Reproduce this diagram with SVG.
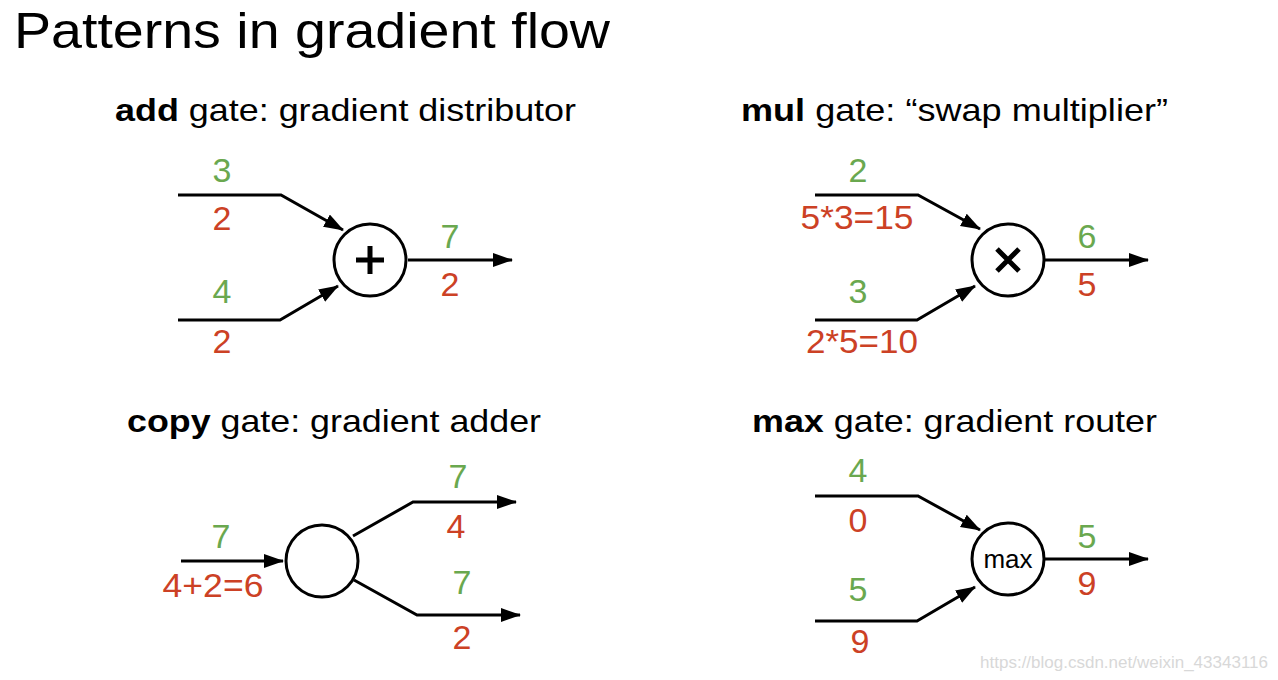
<svg xmlns="http://www.w3.org/2000/svg" width="1278" height="680" viewBox="0 0 1278 680">
<defs>
<marker id="arr" markerUnits="userSpaceOnUse" markerWidth="22" markerHeight="16" refX="19" refY="7" orient="auto">
<path d="M0,0 L20,7 L0,14 z" fill="#000"/>
</marker>
<style>
text{font-family:"Liberation Sans",Arial,sans-serif;}
.title{font-size:50px;fill:#000;}
.head{font-size:32px;fill:#000;}
.b{font-weight:bold;}
.g{font-size:34px;fill:#6aa84f;text-anchor:middle;}
.r{font-size:34px;fill:#cc4125;text-anchor:middle;}
.arrow{fill:none;stroke:#000;stroke-width:3;marker-end:url(#arr);}
.node{fill:#fff;stroke:#000;stroke-width:3;}
.sym{fill:none;stroke:#000;stroke-width:5;}
.wm{font-size:17px;fill:#d8d8d8;}
</style>
</defs>
<rect width="1278" height="680" fill="#fff"/>
<text class="title" x="14" y="48" textLength="596" lengthAdjust="spacingAndGlyphs">Patterns in gradient flow</text>

<text class="head" x="115" y="121" textLength="461" lengthAdjust="spacingAndGlyphs"><tspan class="b">add</tspan> gate: gradient distributor</text>
<text class="head" x="741" y="121" textLength="427" lengthAdjust="spacingAndGlyphs"><tspan class="b">mul</tspan> gate: “swap multiplier”</text>
<text class="head" x="127" y="432" textLength="414" lengthAdjust="spacingAndGlyphs"><tspan class="b">copy</tspan> gate: gradient adder</text>
<text class="head" x="752" y="432" textLength="405" lengthAdjust="spacingAndGlyphs"><tspan class="b">max</tspan> gate: gradient router</text>

<g id="connectors">
<path class="arrow" d="M178,195 L281,195 L343,230"/>
<path class="arrow" d="M178,320 L280,320 L338,286"/>
<path class="arrow" d="M408,260 L512,260"/>
<path class="arrow" d="M815,195 L918,195 L980,229"/>
<path class="arrow" d="M815,320 L917,320 L975,286"/>
<path class="arrow" d="M1045,260 L1148,260"/>
<path class="arrow" d="M181,561 L283,561"/>
<path class="arrow" d="M353,536 L413,502 L516,502"/>
<path class="arrow" d="M354,580 L417,615 L520,615"/>
<path class="arrow" d="M815,496 L918,496 L980,530"/>
<path class="arrow" d="M815,621 L917,621 L975,587"/>
<path class="arrow" d="M1045,559 L1148,559"/>
</g>

<g id="add-gate">
<circle class="node" cx="370" cy="260" r="36"/>
<path class="sym" d="M356,260 H384 M370,246 V274"/>
</g>
<g id="mul-gate">
<circle class="node" cx="1008" cy="260" r="36"/>
<path class="sym" d="M997,249 L1019,271 M1019,249 L997,271"/>
</g>
<g id="copy-gate">
<circle class="node" cx="322" cy="561" r="36"/>
</g>
<g id="max-gate">
<circle class="node" cx="1008" cy="559" r="36"/>
<text x="1008" y="568" font-size="26" text-anchor="middle" fill="#000">max</text>
</g>

<g id="labels">
<text class="g" x="222" y="182">3</text>
<text class="r" x="222" y="230">2</text>
<text class="g" x="222" y="303">4</text>
<text class="r" x="222" y="353">2</text>
<text class="g" x="450" y="248">7</text>
<text class="r" x="450" y="296">2</text>

<text class="g" x="858" y="182">2</text>
<text class="r" x="857" y="229" textLength="113" lengthAdjust="spacingAndGlyphs">5*3=15</text>
<text class="g" x="858" y="303">3</text>
<text class="r" x="862" y="353" textLength="112" lengthAdjust="spacingAndGlyphs">2*5=10</text>
<text class="g" x="1087" y="248">6</text>
<text class="r" x="1087" y="296">5</text>

<text class="g" x="221" y="548">7</text>
<text class="r" x="213" y="597" textLength="101" lengthAdjust="spacingAndGlyphs">4+2=6</text>
<text class="g" x="458" y="488">7</text>
<text class="r" x="456" y="538">4</text>
<text class="g" x="462" y="594">7</text>
<text class="r" x="462" y="649">2</text>

<text class="g" x="858" y="482">4</text>
<text class="r" x="858" y="532">0</text>
<text class="g" x="858" y="601">5</text>
<text class="r" x="860" y="653">9</text>
<text class="g" x="1087" y="548">5</text>
<text class="r" x="1087" y="595">9</text>
</g>

<text class="wm" x="1268" y="668" text-anchor="end">https://blog.csdn.net/weixin_43343116</text>
</svg>
